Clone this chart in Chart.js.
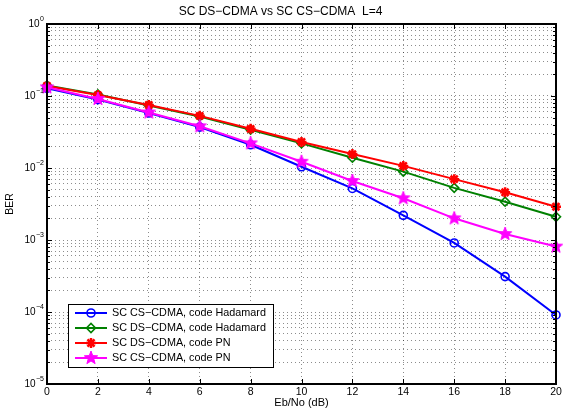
<!DOCTYPE html>
<html><head><meta charset="utf-8">
<script src="https://cdn.jsdelivr.net/npm/chart.js@4/dist/chart.umd.min.js"></script>
<style>html,body{margin:0;padding:0;background:#fff}#wrap{width:564px;height:412px}</style>
</head><body><div id="wrap"><canvas id="c" width="564" height="412"></canvas></div>
<script>
const ebno = [0, 2, 4, 6, 8, 10, 12, 14, 16, 18, 20];
const csHadamard = [0.128, 0.089, 0.058, 0.037, 0.021, 0.0104, 0.0052, 0.0022, 0.00091, 0.00031, 0.000091];
const dsHadamard = [0.140, 0.105, 0.074, 0.052, 0.034, 0.022, 0.0139, 0.0089, 0.0053, 0.0034, 0.0021];
const dsPN = [0.138, 0.103, 0.075, 0.053, 0.035, 0.023, 0.0156, 0.0107, 0.0070, 0.0046, 0.0029];
const csPN = [0.132, 0.091, 0.059, 0.038, 0.022, 0.0122, 0.0066, 0.0038, 0.0020, 0.00121, 0.00081];
const seriesNames = ['SC CS\u2212CDMA, code Hadamard', 'SC DS\u2212CDMA, code Hadamard', 'SC DS\u2212CDMA, code PN', 'SC CS\u2212CDMA, code PN'];
const xTicks = [0, 2, 4, 6, 8, 10, 12, 14, 16, 18, 20];
const yDecades = [-5, -4, -3, -2, -1, 0];
const titleText = 'SC DS\u2212CDMA vs SC CS\u2212CDMA  L=4';
const xTitle = 'Eb/No (dB)';
const yTitle = 'BER';

const FONT = "'Liberation Sans', Arial, Helvetica, sans-serif";

// filled pentagram marker
function makeStar(color, r){
  const s = Math.ceil(r*2+2);
  const cv = document.createElement('canvas'); cv.width = s; cv.height = s;
  const g = cv.getContext('2d');
  g.beginPath();
  for (let i = 0; i < 10; i++){
    const rr = i % 2 === 0 ? r : r*0.42;
    const a = -Math.PI/2 + i*Math.PI/5;
    const px = s/2 + rr*Math.cos(a), py = s/2 + rr*Math.sin(a);
    if (i === 0) g.moveTo(px, py); else g.lineTo(px, py);
  }
  g.closePath();
  g.fillStyle = color; g.fill();
  g.strokeStyle = color; g.lineWidth = 1; g.stroke();
  return cv;
}
const starImg = makeStar('#ff00ff', 7);

const pts = arr => ebno.map((x, i) => ({x: x, y: arr[i]}));
const styles = [
  {color:'#0000ff', pointStyle:'circle', radius:4, bw:1.6, fill:'rgba(0,0,0,0)', order:4},
  {color:'#008000', pointStyle:'rectRot', radius:4.5, bw:1.6, fill:'rgba(0,0,0,0)', order:3},
  {color:'#ff0000', pointStyle:'star', radius:5, bw:2.5, fill:'#ff0000', order:2},
  {color:'#ff00ff', pointStyle:starImg, radius:7, bw:1, fill:'#ff00ff', order:1}
];
const seriesData = [csHadamard, dsHadamard, dsPN, csPN];

const datasets = seriesData.map((d, i) => ({
  label: seriesNames[i],
  data: pts(d),
  borderColor: styles[i].color,
  backgroundColor: styles[i].fill,
  borderWidth: 2,
  pointStyle: styles[i].pointStyle,
  pointRadius: styles[i].radius,
  pointHoverRadius: styles[i].radius,
  pointBorderWidth: styles[i].bw,
  pointBorderColor: styles[i].color,
  pointBackgroundColor: styles[i].fill,
  tension: 0,
  clip: false,
  order: styles[i].order
}));

const yTickVals = [];
for (const e of yDecades){
  if (e === 0) { yTickVals.push(1); break; }
  for (let s = 1; s <= 9; s++) yTickVals.push(+(s*Math.pow(10, e)).toPrecision(6));
}
const isDecade = v => Math.abs(Math.log10(v) - Math.round(Math.log10(v))) < 1e-9;

const framePlugin = {
  id: 'frame',
  afterDatasetsDraw(chart){
    const {ctx, chartArea: a} = chart;
    ctx.save();
    ctx.strokeStyle = '#000';
    ctx.lineWidth = 1;
    const xs = chart.scales.x, ys = chart.scales.y;
    ctx.beginPath();
    for (const v of xTicks){
      const px = Math.round(xs.getPixelForValue(v)) + 0.5;
      ctx.moveTo(px, a.bottom); ctx.lineTo(px, a.bottom - 5);
      ctx.moveTo(px, a.top); ctx.lineTo(px, a.top + 5);
    }
    for (const v of yTickVals){
      const py = Math.round(ys.getPixelForValue(v)) + 0.5;
      const len = isDecade(v) ? 5 : 3;
      ctx.moveTo(a.left, py); ctx.lineTo(a.left + len, py);
      ctx.moveTo(a.right, py); ctx.lineTo(a.right - len, py);
    }
    ctx.stroke();
    ctx.lineWidth = 2;
    ctx.strokeRect(a.left, a.top, a.right - a.left, a.bottom - a.top);

    // y decade labels: "10" with raised exponent
    ctx.fillStyle = '#000';
    ctx.textBaseline = 'middle';
    ctx.textAlign = 'left';
    for (const e of yDecades){
      const py = ys.getPixelForValue(Math.pow(10, e));
      const expTxt = e < 0 ? '\u2212' + Math.abs(e) : String(e);
      ctx.font = '7px ' + FONT;
      const ew = ctx.measureText(expTxt).width;
      ctx.font = '10px ' + FONT;
      const bw = ctx.measureText('10').width;
      const right = a.left - 3;
      const x0 = right - ew - bw - 0.5;
      ctx.fillText('10', x0, py + 0.5);
      ctx.font = '7px ' + FONT;
      ctx.fillText(expTxt, x0 + bw + 0.5, py - 5);
    }
    ctx.restore();
  },
  afterDraw(chart){
    const ctx = chart.ctx;
    ctx.save();
    const bx = 68, by = 304, bw = 205, bh = 63;
    ctx.fillStyle = '#fff';
    ctx.fillRect(bx, by, bw, bh);
    ctx.strokeStyle = '#000'; ctx.lineWidth = 1;
    ctx.strokeRect(bx + 0.5, by + 0.5, bw, bh);
    ctx.font = '10.8px ' + FONT;
    ctx.textBaseline = 'middle';
    ctx.textAlign = 'left';
    chart.data.datasets.forEach((ds, i) => {
      const y = 313 + i*15;
      ctx.strokeStyle = ds.borderColor; ctx.lineWidth = 2;
      ctx.beginPath(); ctx.moveTo(75, y); ctx.lineTo(107, y); ctx.stroke();
      ctx.fillStyle = ds.pointBackgroundColor;
      ctx.strokeStyle = ds.pointBorderColor;
      ctx.lineWidth = ds.pointBorderWidth;
      Chart.helpers.drawPoint(ctx, {pointStyle: ds.pointStyle, radius: ds.pointRadius, rotation: 0, borderWidth: ds.pointBorderWidth}, 91, y);
      ctx.fillStyle = '#000';
      ctx.fillText(ds.label, 112, y + 0.5);
    });
    ctx.restore();
  }
};

const gridColor = 'rgba(0,0,0,0.45)';
new Chart(document.getElementById('c'), {
  type: 'line',
  data: { datasets },
  plugins: [framePlugin],
  options: {
    responsive: false,
    animation: false,
    devicePixelRatio: 1,
    layout: { padding: { left: 0, right: 3, top: 0, bottom: 0 } },
    plugins: {
      legend: { display: false },
      tooltip: { enabled: false },
      title: { display: true, text: titleText, color: '#000', font: { family: FONT, size: 12, weight: 'normal' }, padding: { top: 4, bottom: 5.6 } }
    },
    scales: {
      x: {
        type: 'linear', min: 0, max: 20,
        afterBuildTicks: s => { s.ticks = xTicks.map(v => ({value: v})); },
        ticks: { color: '#000', font: { family: FONT, size: 10.5 }, padding: 2, autoSkip: false, maxRotation: 0 },
        grid: { color: gridColor, lineWidth: 1, drawTicks: false },
        border: { display: false, dash: [1, 3] },
        title: { display: true, text: xTitle, color: '#000', font: { family: FONT, size: 11 }, padding: { top: 0, bottom: 2 } },
        afterFit: s => { s.height = 28; s.paddingLeft = 0; s.paddingRight = 0; }
      },
      y: {
        type: 'logarithmic', min: 1e-5, max: 1,
        afterBuildTicks: s => { s.ticks = yTickVals.map(v => ({value: v, major: isDecade(v)})); },
        ticks: { display: false, autoSkip: false },
        grid: { color: gridColor, lineWidth: 1, drawTicks: false },
        border: { display: false, dash: [1, 3] },
        title: { display: true, text: yTitle, color: '#000', font: { family: FONT, size: 10.5 }, padding: { top: 4, bottom: 4 } },
        afterFit: s => { s.width = 47; s.paddingTop = 0; s.paddingBottom = 0; }
      }
    }
  }
});
</script></body></html>
